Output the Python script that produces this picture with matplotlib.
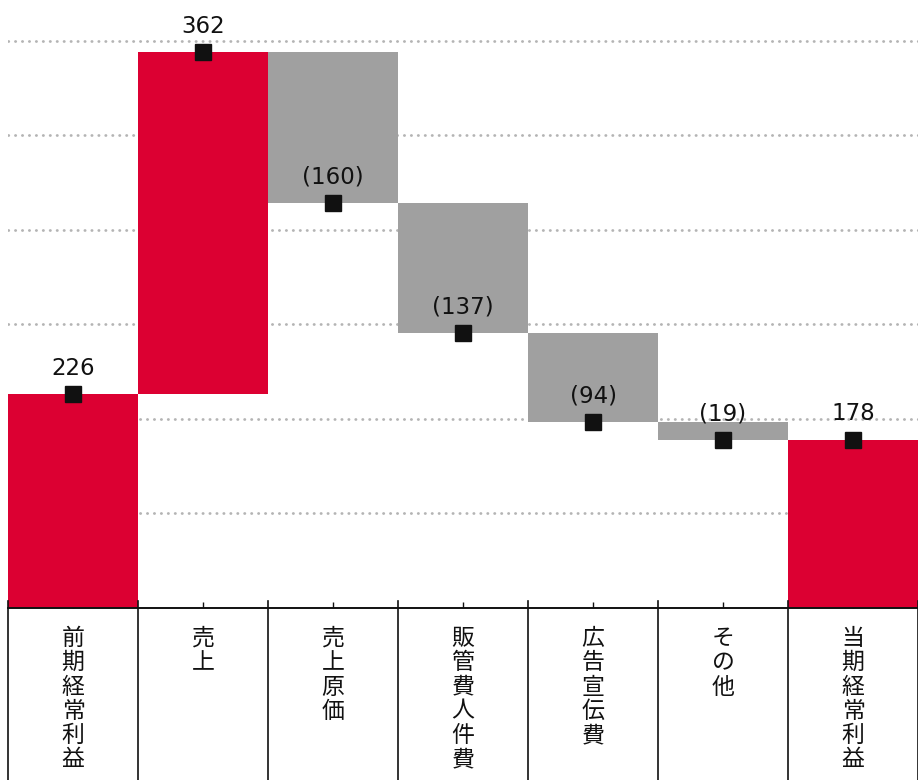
import numpy as np
import matplotlib
matplotlib.use("Agg")
import matplotlib.pyplot as plt
import matplotlib.transforms as mtransforms

plt.rcParams['font.family'] = ['DejaVu Sans', 'Noto Sans CJK JP']

# waterfall data
categories = ['前期経常利益', '売上', '売上原価', '販管費人件費', '広告宣伝費', 'その他', '当期経常利益']
values = [226, 362, -160, -137, -94, -19, 178]
is_total = [True, False, False, False, False, False, True]
value_labels = ['226', '362', '(160)', '(137)', '(94)', '(19)', '178']

red = '#DC0032'
grey = '#A0A0A0'

# bar extents and level after each step
bottoms, heights, levels, colors = [], [], [], []
running = 0
for v, tot in zip(values, is_total):
    if tot:
        running = v
        bottoms.append(0)
        heights.append(v)
        colors.append(red)
    else:
        start = running
        running = running + v
        bottoms.append(min(start, running))
        heights.append(abs(v))
        colors.append(red if v > 0 else grey)
    levels.append(running)

W, H = 918, 780
fig = plt.figure(figsize=(W / 100, H / 100), dpi=100)
ax_bottom_px = 608
ax = fig.add_axes([8 / W, (H - ax_bottom_px) / H, 910 / W, ax_bottom_px / H])

x = np.arange(len(categories))
ax.set_xlim(-0.5, len(categories) - 0.5)
ax.set_ylim(0, 643)

# dotted gridlines
for g in range(100, 700, 100):
    ax.axhline(g, color='#B4B4B4', lw=2.0, linestyle=(0, (0.1, 2.4)),
               dash_capstyle='round', zorder=0)

ax.bar(x, heights, bottom=bottoms, width=1.0, color=colors, zorder=2)
ax.plot(x, levels, linestyle='none', marker='s', markersize=12,
        color='#111111', zorder=3)

for xi, lv, lab in zip(x, levels, value_labels):
    ax.annotate(lab, (xi, lv), xytext=(0, 14), textcoords='offset points',
                ha='center', va='baseline', fontsize=16.5, color='#111111',
                family='DejaVu Sans', zorder=4)

# axes styling
for s in ['top', 'right', 'left']:
    ax.spines[s].set_visible(False)
ax.spines['bottom'].set_linewidth(1.4)
ax.spines['bottom'].set_color('#111111')
ax.set_yticks([])
ax.set_xticks(x)
ax.set_xticklabels([])
ax.tick_params(axis='x', direction='in', length=4.5, width=1, color='#111111')

# category separators and vertical labels below the axis
trans = mtransforms.blended_transform_factory(ax.transData, ax.transAxes)
bottom_frac = -(H - ax_bottom_px) / ax_bottom_px
for b in np.arange(len(categories) + 1) - 0.5:
    ax.plot([b, b], [7 / ax_bottom_px, bottom_frac], transform=trans,
            color='#111111', lw=1.2, clip_on=False, zorder=5)

for xi, cat in zip(x, categories):
    ax.text(xi, -(627 - ax_bottom_px) / ax_bottom_px, '\n'.join(cat),
            transform=trans, ha='center', va='top', fontsize=16.5,
            linespacing=1.07, family=['Noto Sans CJK JP', 'DejaVu Sans'],
            color='#111111')

fig.savefig('out.png', dpi=100)
